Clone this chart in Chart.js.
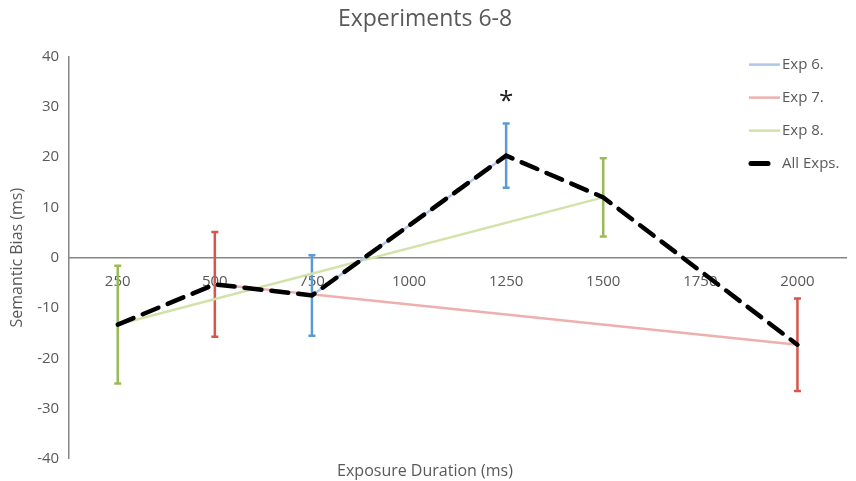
<!DOCTYPE html>
<html>
<head>
<meta charset="utf-8">
<script src="https://cdn.jsdelivr.net/npm/chart.js@4"></script>
<style>
  html, body { margin: 0; padding: 0; background: #fff; }
  #wrap { width: 856px; height: 481px; position: relative; }
</style>
</head>
<body>
<div id="wrap"><canvas id="chart"></canvas></div>
<script>
// exposure durations (ms)
const durations = ['250', '500', '750', '1000', '1250', '1500', '1750', '2000'];

// semantic bias (ms) per experiment, null = not tested
const exp6 = [null, null, -7.5, null, 20.3, null, null, null];
const exp7 = [null, -5.3, null, null, null, null, null, -17.3];
const exp8 = [-13.3, null, null, null, null, 12.0, null, null];
const allExps = [-13.3, -5.3, -7.5, null, 20.3, 12.0, null, -17.3];

// error bar half-widths
const exp6Err = [null, null, 8.0, null, 6.4, null, null, null];
const exp7Err = [null, 10.4, null, null, null, null, null, 9.2];
const exp8Err = [11.7, null, null, null, null, 7.8, null, null];

// significance markers
const sigMarks = [null, null, null, null, '*', null, null, null];

const yTicks = [-40, -30, -20, -10, 0, 10, 20, 30, 40];

const textGray = '#595959';
const fontFamily = '"Open Sans", Lato, sans-serif';

const series = [
  { label: 'Exp 6.', data: exp6, err: exp6Err, line: '#aec6e8', bar: '#5b9bd5' },
  { label: 'Exp 7.', data: exp7, err: exp7Err, line: '#eeb0ae', bar: '#d6564d' },
  { label: 'Exp 8.', data: exp8, err: exp8Err, line: '#d3e1ab', bar: '#9bbb59' },
];

const errorBars = {
  id: 'errorBars',
  beforeDatasetsDraw(chart) {
    const { ctx, scales: { x, y } } = chart;
    ctx.save();
    ctx.lineWidth = 2.5;
    series.forEach(s => {
      ctx.strokeStyle = s.bar;
      s.data.forEach((v, i) => {
        if (v === null || s.err[i] === null) return;
        const px = x.getPixelForValue(i);
        const top = y.getPixelForValue(v + s.err[i]);
        const bot = y.getPixelForValue(v - s.err[i]);
        ctx.beginPath();
        ctx.moveTo(px, top); ctx.lineTo(px, bot);
        ctx.moveTo(px - 3.5, top); ctx.lineTo(px + 3.5, top);
        ctx.moveTo(px - 3.5, bot); ctx.lineTo(px + 3.5, bot);
        ctx.stroke();
      });
    });
    // significance stars above the highest bar end
    ctx.fillStyle = '#222';
    ctx.font = '26px ' + fontFamily;
    ctx.textAlign = 'center';
    ctx.textBaseline = 'middle';
    sigMarks.forEach((m, i) => {
      if (!m) return;
      let hi = -Infinity;
      series.forEach(s => {
        if (s.data[i] !== null) hi = Math.max(hi, s.data[i] + (s.err[i] || 0));
      });
      ctx.fillText(m, x.getPixelForValue(i), y.getPixelForValue(hi) - 22);
    });
    ctx.restore();
  }
};

const customLegend = {
  id: 'customLegend',
  afterDraw(chart) {
    const { ctx, chartArea } = chart;
    const x0 = chartArea.right - 97;
    const rows = series.map(s => ({ label: s.label, color: s.line, width: 2.5, len: 31 }))
      .concat([{ label: 'All Exps.', color: '#000', width: 5, len: 19 }]);
    ctx.save();
    ctx.font = '15px ' + fontFamily;
    ctx.fillStyle = textGray;
    ctx.textBaseline = 'middle';
    rows.forEach((r, i) => {
      const yy = chartArea.top + 8 + i * 33;
      ctx.strokeStyle = r.color;
      ctx.lineWidth = r.width;
      ctx.lineCap = r.width > 3 ? 'round' : 'butt';
      ctx.beginPath();
      ctx.moveTo(x0 + (r.width > 3 ? 2 : 0), yy);
      ctx.lineTo(x0 + r.len, yy);
      ctx.stroke();
      ctx.fillText(r.label, x0 + 33, yy);
    });
    ctx.restore();
  }
};

new Chart(document.getElementById('chart'), {
  type: 'line',
  data: {
    labels: durations,
    datasets: series.map((s, i) => ({
      label: s.label,
      data: s.data,
      borderColor: s.line,
      borderWidth: 2.5,
      pointRadius: 0,
      spanGaps: true,
      order: i + 1,
    })).concat([{
      label: 'All Exps.',
      data: allExps,
      borderColor: '#000',
      borderWidth: 4.5,
      borderDash: [17, 10],
      borderCapStyle: 'round',
      pointRadius: 0,
      spanGaps: true,
      order: 0,
    }]),
  },
  options: {
    responsive: true,
    maintainAspectRatio: false,
    animation: false,
    layout: { padding: { left: 4, right: 10 } },
    plugins: {
      legend: { display: false },
      tooltip: { enabled: false },
      title: {
        display: true,
        text: 'Experiments 6-8',
        color: textGray,
        font: { family: fontFamily, size: 23, weight: 'normal' },
        padding: { top: 6, bottom: 23 },
      },
      subtitle: {
        display: true,
        position: 'bottom',
        text: 'Exposure Duration (ms)',
        color: textGray,
        font: { family: fontFamily, size: 16, weight: 'normal' },
        padding: { top: 3, bottom: 0 },
      },
    },
    scales: {
      x: {
        type: 'category',
        offset: true,
        position: { y: 0 },
        grid: { display: false, drawTicks: false },
        border: { display: true, color: '#868686', width: 1.5 },
        ticks: {
          color: textGray,
          font: { family: fontFamily, size: 15 },
          padding: 15,
          maxRotation: 0,
        },
      },
      y: {
        min: -40,
        max: 40,
        afterBuildTicks: axis => { axis.ticks = yTicks.map(v => ({ value: v })); },
        grid: { display: false, drawTicks: false },
        border: { display: true, color: '#868686', width: 1.5 },
        ticks: {
          color: textGray,
          font: { family: fontFamily, size: 15 },
          padding: 10,
        },
        title: {
          display: true,
          text: 'Semantic Bias (ms)',
          color: textGray,
          font: { family: fontFamily, size: 16 },
          padding: { top: 4, bottom: 0 },
        },
      },
    },
  },
  plugins: [errorBars, customLegend],
});
</script>
</body>
</html>
